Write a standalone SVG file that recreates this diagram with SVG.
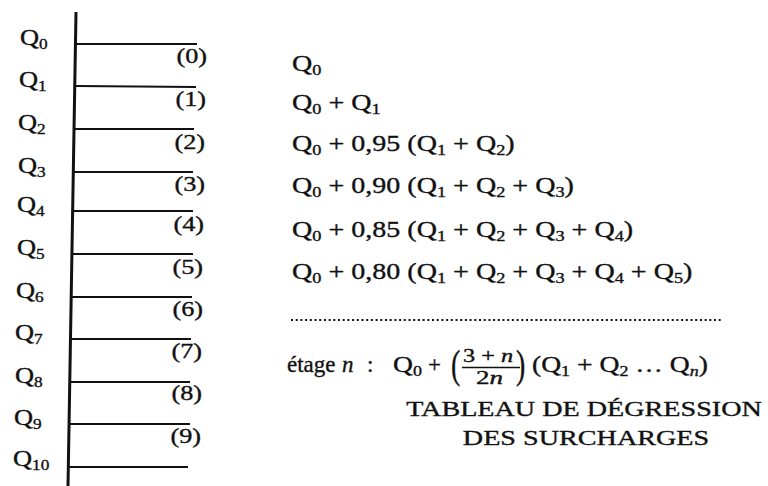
<svg xmlns="http://www.w3.org/2000/svg" width="768" height="486" viewBox="0 0 768 486">
<style>
text{font-family:"Liberation Serif","Times New Roman",serif;fill:#111;stroke:#111;stroke-width:0.35;}
.q{font-size:23px;}
.k{font-size:21px;}
.fr{font-size:18px;}
.f{font-size:23px;}
.s{font-size:15px;}
.t{font-size:22px;}
.it{font-style:italic;}
.ln{stroke:#111;stroke-width:2.2;fill:none;}
</style>
<rect width="768" height="486" fill="#fff"/>
<g id="column">
<line x1="76" y1="12" x2="68" y2="486" stroke="#111" stroke-width="3"/>
</g>
<g id="floors">
<g id="level-0"><line class="ln" x1="76" y1="44" x2="197" y2="44"/><text class="q" transform="translate(20,45) scale(1.15,1)">Q<tspan class="s" dy="4">0</tspan></text><text class="k" text-anchor="end" transform="translate(207,63) scale(1.25,1)">(0)</text></g>
<g id="level-1"><line class="ln" x1="76" y1="86" x2="196" y2="87"/><text class="q" transform="translate(19,87) scale(1.15,1)">Q<tspan class="s" dy="4">1</tspan></text><text class="k" text-anchor="end" transform="translate(206,106) scale(1.25,1)">(1)</text></g>
<g id="level-2"><line class="ln" x1="75" y1="129" x2="194" y2="129"/><text class="q" transform="translate(18,130) scale(1.15,1)">Q<tspan class="s" dy="4">2</tspan></text><text class="k" text-anchor="end" transform="translate(205,149) scale(1.25,1)">(2)</text></g>
<g id="level-3"><line class="ln" x1="74" y1="172" x2="193" y2="172"/><text class="q" transform="translate(18,173) scale(1.15,1)">Q<tspan class="s" dy="4">3</tspan></text><text class="k" text-anchor="end" transform="translate(205,191) scale(1.25,1)">(3)</text></g>
<g id="level-4"><line class="ln" x1="74" y1="211" x2="193" y2="211"/><text class="q" transform="translate(17,212) scale(1.15,1)">Q<tspan class="s" dy="4">4</tspan></text><text class="k" text-anchor="end" transform="translate(204,231) scale(1.25,1)">(4)</text></g>
<g id="level-5"><line class="ln" x1="72" y1="254" x2="193" y2="254"/><text class="q" transform="translate(17,255) scale(1.15,1)">Q<tspan class="s" dy="4">5</tspan></text><text class="k" text-anchor="end" transform="translate(203,274) scale(1.25,1)">(5)</text></g>
<g id="level-6"><line class="ln" x1="71" y1="297" x2="192" y2="297"/><text class="q" transform="translate(16,298) scale(1.15,1)">Q<tspan class="s" dy="4">6</tspan></text><text class="k" text-anchor="end" transform="translate(203,316) scale(1.25,1)">(6)</text></g>
<g id="level-7"><line class="ln" x1="71" y1="339" x2="191" y2="339"/><text class="q" transform="translate(15,340) scale(1.15,1)">Q<tspan class="s" dy="4">7</tspan></text><text class="k" text-anchor="end" transform="translate(202,358) scale(1.25,1)">(7)</text></g>
<g id="level-8"><line class="ln" x1="70" y1="382" x2="190" y2="382"/><text class="q" transform="translate(15,383) scale(1.15,1)">Q<tspan class="s" dy="4">8</tspan></text><text class="k" text-anchor="end" transform="translate(202,400) scale(1.25,1)">(8)</text></g>
<g id="level-9"><line class="ln" x1="70" y1="424" x2="190" y2="424"/><text class="q" transform="translate(14,425) scale(1.15,1)">Q<tspan class="s" dy="4">9</tspan></text><text class="k" text-anchor="end" transform="translate(201,443) scale(1.25,1)">(9)</text></g>
<g id="level-10"><line class="ln" x1="69" y1="467" x2="188" y2="467"/><text class="q" transform="translate(13,466) scale(1.15,1)">Q<tspan class="s" dy="4">10</tspan></text></g>
</g>
<g id="formulas">
<text class="f" transform="translate(292,71) scale(1.22,1)">Q<tspan class="s" dy="4">0</tspan></text>
<text class="f" transform="translate(292,110) scale(1.22,1)">Q<tspan class="s" dy="4">0</tspan><tspan dy="-4"> + Q</tspan><tspan class="s" dy="4">1</tspan></text>
<text class="f" transform="translate(292,151) scale(1.22,1)">Q<tspan class="s" dy="4">0</tspan><tspan dy="-4"> + 0,95 (Q</tspan><tspan class="s" dy="4">1</tspan><tspan dy="-4"> + Q</tspan><tspan class="s" dy="4">2</tspan><tspan dy="-4">)</tspan></text>
<text class="f" transform="translate(292,193) scale(1.22,1)">Q<tspan class="s" dy="4">0</tspan><tspan dy="-4"> + 0,90 (Q</tspan><tspan class="s" dy="4">1</tspan><tspan dy="-4"> + Q</tspan><tspan class="s" dy="4">2</tspan><tspan dy="-4"> + Q</tspan><tspan class="s" dy="4">3</tspan><tspan dy="-4">)</tspan></text>
<text class="f" transform="translate(292,237) scale(1.22,1)">Q<tspan class="s" dy="4">0</tspan><tspan dy="-4"> + 0,85 (Q</tspan><tspan class="s" dy="4">1</tspan><tspan dy="-4"> + Q</tspan><tspan class="s" dy="4">2</tspan><tspan dy="-4"> + Q</tspan><tspan class="s" dy="4">3</tspan><tspan dy="-4"> + Q</tspan><tspan class="s" dy="4">4</tspan><tspan dy="-4">)</tspan></text>
<text class="f" transform="translate(292,279) scale(1.22,1)">Q<tspan class="s" dy="4">0</tspan><tspan dy="-4"> + 0,80 (Q</tspan><tspan class="s" dy="4">1</tspan><tspan dy="-4"> + Q</tspan><tspan class="s" dy="4">2</tspan><tspan dy="-4"> + Q</tspan><tspan class="s" dy="4">3</tspan><tspan dy="-4"> + Q</tspan><tspan class="s" dy="4">4</tspan><tspan dy="-4"> + Q</tspan><tspan class="s" dy="4">5</tspan><tspan dy="-4">)</tspan></text>
<line x1="291" y1="320" x2="722" y2="320" stroke="#111" stroke-width="2" stroke-dasharray="2 2.7"/>
</g>
<g id="general">
<text class="f" x="287" y="372">étage</text>
<text class="f it" x="342" y="372">n</text>
<text class="f" x="367" y="372">:</text>
<text class="f" transform="translate(393,372) scale(1.2,1)">Q<tspan class="s" dy="4">0</tspan></text>
<text class="f" x="428" y="372">+</text>
<text transform="translate(451,378) scale(0.7,1)" style="font-size:40px">(</text>
<text class="fr" transform="translate(463,362) scale(1.35,1)">3 + <tspan class="it">n</tspan></text>
<line x1="462" y1="367.5" x2="520" y2="367.5" stroke="#111" stroke-width="1.3"/>
<text class="fr" transform="translate(476,384) scale(1.5,1)">2<tspan class="it">n</tspan></text>
<text transform="translate(516,378) scale(0.7,1)" style="font-size:40px">)</text>
<text class="f" transform="translate(532,372) scale(1.2,1)">(Q<tspan class="s" dy="4">1</tspan><tspan dy="-4"> + Q</tspan><tspan class="s" dy="4">2</tspan><tspan dy="-4"> … Q</tspan><tspan class="s it" dy="4">n</tspan><tspan dy="-4">)</tspan></text>
</g>
<g id="title">
<text class="t" text-anchor="middle" transform="translate(584,416) scale(1.28,1)">TABLEAU DE DÉGRESSION</text>
<text class="t" text-anchor="middle" transform="translate(586,445) scale(1.28,1)">DES SURCHARGES</text>
</g>
</svg>
